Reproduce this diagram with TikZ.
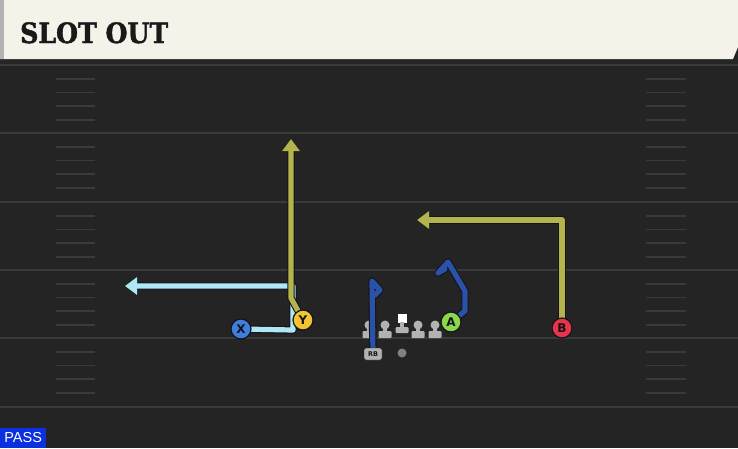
\documentclass[tikz,border=0pt]{standalone}
\usepackage{fontspec}
\usepackage{tikz}
\usetikzlibrary{arrows.meta}
\setmainfont{DejaVu Sans}
\newfontfamily\titlefont{DejaVu Serif}[FakeStretch=0.9, FakeBold=1.6]
\newfontfamily\tagfont{Liberation Sans}
\definecolor{field}{HTML}{242424}
\definecolor{yardline}{HTML}{3A3A3A}
\definecolor{cream}{HTML}{F5F2EA}
\definecolor{lightroute}{HTML}{AEE8F5}
\definecolor{oliveroute}{HTML}{B3B44C}
\definecolor{navyroute}{HTML}{2A52A8}
\definecolor{xblue}{HTML}{3F7FDC}
\definecolor{yyellow}{HTML}{F4C430}
\definecolor{agreen}{HTML}{8AD84A}
\definecolor{bred}{HTML}{E8334A}
\definecolor{outline}{HTML}{14141C}
\definecolor{passblue}{HTML}{0A30E0}
\pgfdeclarelayer{bg}
\pgfdeclarelayer{routes}
\pgfsetlayers{bg,routes,main}
\tikzset{
	player/.style={circle, draw=outline, line width=1.2pt, minimum size=20pt, inner sep=0pt,
		font=\bfseries\fontsize{12}{12}\selectfont, text=outline},
	route/.style={line width=5.2pt, line join=round, line cap=round,
		preaction={draw=outline, line width=7.4pt, line join=round, line cap=round}},
	tip/.style={-{Triangle[width=17pt,length=12pt]}},
	hashmark/.style={draw=yardline, line width=1.6pt},
	lineman/.style={fill=black!30},
}
\begin{document}
\begin{tikzpicture}[x=1pt, y=-1pt]
	\useasboundingbox (0,0) rectangle (738,448);
	\begin{pgfonlayer}{bg}
		\fill[field] (0,0) rectangle (738,448);
		\fill[black!85] (0,59) rectangle (738,65);
		\foreach \y in {65, 133, 202, 270, 338, 407}
			\draw[yardline, line width=2pt] (0,\y) -- (738,\y);
		\foreach \y in {65, 133, 202, 270, 338}
			\foreach \k in {1, ..., 4}
			{
				\draw[hashmark] (56,\y+\k*13.7) -- (95,\y+\k*13.7);
				\draw[hashmark] (646,\y+\k*13.7) -- (686,\y+\k*13.7);
			}
		\fill[cream] (0,0) -- (738,0) -- (738,47) -- (733,59) -- (0,59) -- cycle;
		\fill[black!30] (0,0) rectangle (4,59);
		\foreach \x in {369, 385, 418, 435}
		{
			\fill[lineman] (\x,325) circle (4.5);
			\fill[lineman] (\x-2,327) rectangle (\x+2,332);
			\fill[lineman, rounded corners=1pt] (\x-6.5,331) rectangle (\x+6.5,338);
		}
		\fill[white] (397.5,313.5) rectangle (406.5,322.5);
		\fill[lineman] (400,322) rectangle (404,328);
		\fill[lineman, rounded corners=1pt] (395.5,327) rectangle (408.5,333);
	\end{pgfonlayer}
	\node[anchor=base west, inner sep=0pt, text=black!90, font=\titlefont\bfseries\fontsize{28}{28}\selectfont]
		(title) at (20,43) {SLOT OUT};
	\node[anchor=south west, fill=passblue, text=white, inner sep=2pt, minimum width=46pt, minimum height=20pt,
		font=\tagfont\fontsize{14.5}{14.5}\selectfont] (pass) at (0,448) {PASS};
	\node[player, fill=xblue] (X) at (241,329) {X};
	\node[player, fill=yyellow] (Y) at (303,320) {Y};
	\node[player, fill=agreen] (A) at (451,322) {A};
	\node[player, fill=bred] (B) at (562,328) {B};
	\node[fill=black!30, draw=outline, rounded corners=2pt, minimum width=18pt, minimum height=12pt, inner sep=0pt,
		font=\bfseries\fontsize{6.5}{6.5}\selectfont, text=outline] (RB) at (373,354) {RB};
	\node[circle, fill=black!50, minimum size=9pt, inner sep=0pt] (QB) at (402,353) {};
	\coordinate (Xend) at (125,286);
	\coordinate (Yend) at (291,139);
	\coordinate (Bend) at (417,220);
	\coordinate (Aend) at (445,269);
	\coordinate (RBend) at (375,295);
	\begin{pgfonlayer}{routes}
		\draw[route, lightroute, tip] (X) -- (293,330) -- (293,286) -- (Xend);
		\draw[route, oliveroute, tip] (Y) -- (291,298) -- (Yend);
		\draw[route, oliveroute, tip] (B) -- (562,220) -- (Bend);
		\draw[route, navyroute] (A) -- (465,311) -- (465,291) -- (448,262) -- (438,273) -- (Aend);
		\draw[route, navyroute] (RB) -- (372,281) -- (380,290) -- (RBend);
	\end{pgfonlayer}
\end{tikzpicture}
\end{document}
